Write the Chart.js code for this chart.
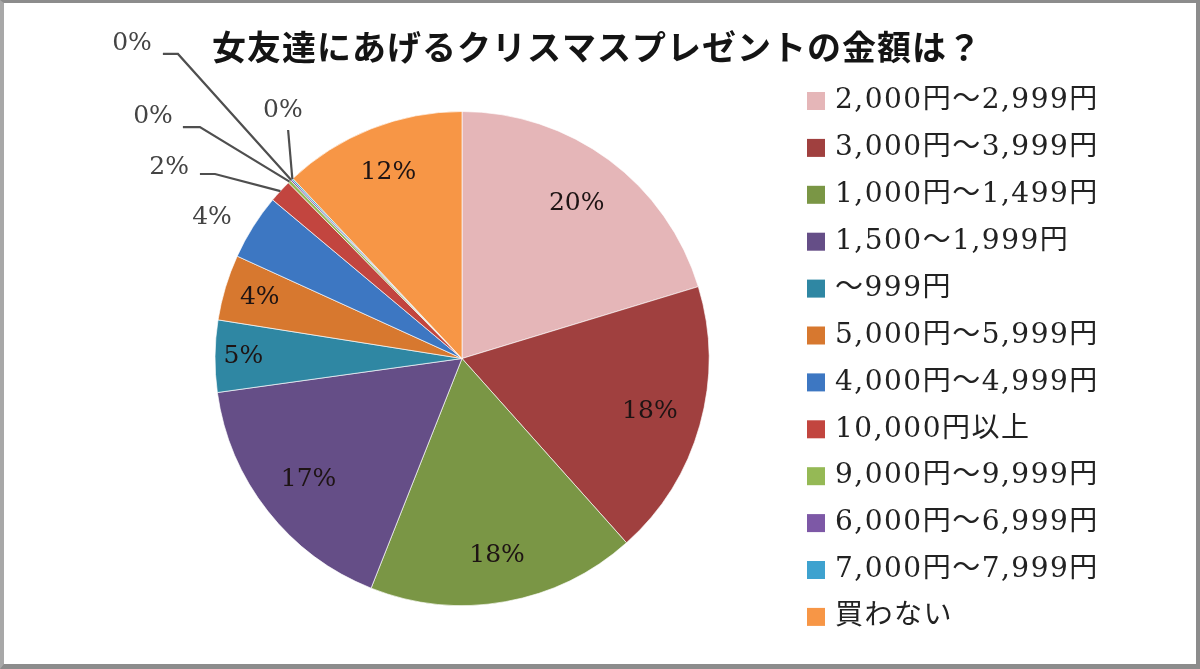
<!DOCTYPE html>
<html><head><meta charset="utf-8">
<script src="https://cdn.jsdelivr.net/npm/chart.js@4.4.1/dist/chart.umd.min.js"></script>
<style>
html,body{margin:0;padding:0;background:#fff;}
#wrap{position:relative;width:1200px;height:669px;overflow:hidden;}
#frame{position:absolute;left:0;top:0;width:1200px;height:669px;box-sizing:border-box;border-top:3px solid #8c8c8c;border-left:4px solid #a8a8a8;border-right:4px solid #8c8c8c;border-bottom:5px solid #8c8c8c;pointer-events:none;}
</style></head><body>
<div id="wrap"><canvas id="c" width="1200" height="669"></canvas><div id="frame"></div></div>
<script>
// ---- data ----
const chartTitle = '女友達にあげるクリスマスプレゼントの金額は？';
const categories = [
  '2,000円～2,999円',
  '3,000円～3,999円',
  '1,000円～1,499円',
  '1,500～1,999円',
  '～999円',
  '5,000円～5,999円',
  '4,000円～4,999円',
  '10,000円以上',
  '9,000円～9,999円',
  '6,000円～6,999円',
  '7,000円～7,999円',
  '買わない'
];
const shares = [20.3, 18.1, 17.6, 16.8, 4.7, 4.3, 4.3, 1.5, 0.2, 0.1, 0.1, 12.0];
const sliceColors = ['#E5B6B8','#A0403F','#7A9645','#654E87','#2F87A3','#D7782F',
                     '#3D77C2','#C2453F','#95B955','#7D58A6','#3EA2CF','#F79646'];

// ---- label placement (style/layout, relative to pie radius) ----
const placements = [
  {r:0.78}, {r:0.79}, {r:0.81}, {r:0.79}, {r:0.885}, {r:0.855},
  {t:[-1.012,-0.569], l:null},
  {t:[-1.186,-0.775], l:[[-1.061,-0.747],[-1.0,-0.747]]},
  {t:[-1.251,-0.978], l:[[-1.130,-0.937],[-1.061,-0.937]]},
  {t:[-1.336,-1.277], l:[[-1.211,-1.233],[-1.150,-1.233]]},
  {t:[-0.725,-1.006], l:[[-0.704,-0.925]]},
  {r:0.81}
];

const LATIN = '"DejaVu Serif", "Noto Sans CJK JP", serif';

const excelPlugin = {
  id: 'excelLook',
  afterDatasetsDraw(chart) {
    const ctx = chart.ctx;
    const meta = chart.getDatasetMeta(0);
    const data = chart.data.datasets[0].data;
    ctx.save();
    ctx.textAlign = 'center';
    ctx.textBaseline = 'middle';
    ctx.font = '25px ' + LATIN;
    meta.data.forEach((arc, i) => {
      const p = arc.getProps(['x','y','startAngle','endAngle','outerRadius'], true);
      const mid = (p.startAngle + p.endAngle) / 2;
      const R = p.outerRadius;
      const cfg = placements[i];
      const txt = Math.round(data[i]) + '%';
      let tx, ty, outside = false;
      if (cfg.r !== undefined) {
        tx = p.x + Math.cos(mid) * R * cfg.r;
        ty = p.y + Math.sin(mid) * R * cfg.r;
      } else {
        outside = true;
        tx = p.x + cfg.t[0] * R;
        ty = p.y + cfg.t[1] * R;
        if (cfg.l) {
          ctx.beginPath();
          ctx.strokeStyle = '#4f4f4f';
          ctx.lineWidth = 2.2;
          cfg.l.forEach((pt, k) => {
            const X = p.x + pt[0] * R, Y = p.y + pt[1] * R;
            if (k === 0) ctx.moveTo(X, Y); else ctx.lineTo(X, Y);
          });
          ctx.lineTo(p.x + Math.cos(mid) * R, p.y + Math.sin(mid) * R);
          ctx.stroke();
        }
      }
      ctx.fillStyle = outside ? '#444444' : '#1e1414';
      ctx.fillText(txt, tx, ty);
    });
    ctx.restore();
  },
  afterDraw(chart) {
    const ctx = chart.ctx;
    ctx.save();
    // title
    ctx.textAlign = 'center';
    ctx.textBaseline = 'middle';
    ctx.fillStyle = '#141414';
    ctx.font = 'bold 34px "Noto Sans CJK JP", sans-serif';
    ctx.letterSpacing = '1px';
    ctx.fillText(chartTitle, 597, 47);
    // legend
    const bg = chart.data.datasets[0].backgroundColor;
    ctx.textAlign = 'left';
    ctx.font = '28px ' + LATIN;
    ctx.letterSpacing = '1.5px';
    chart.data.labels.forEach((lab, i) => {
      const yc = 101 + i * 46.9;
      ctx.fillStyle = bg[i];
      ctx.fillRect(807, yc - 9, 18, 18);
      ctx.fillStyle = '#222222';
      ctx.fillText(lab, 835, yc);
    });
    ctx.restore();
  }
};

new Chart(document.getElementById('c'), {
  type: 'pie',
  data: {
    labels: categories,
    datasets: [{
      data: shares,
      backgroundColor: sliceColors,
      borderColor: 'rgba(255,255,255,0.65)',
      borderWidth: 1
    }]
  },
  options: {
    responsive: false,
    animation: false,
    layout: { padding: { top: 111, bottom: 63, left: 214, right: 490 } },
    plugins: {
      legend: { display: false },
      title: { display: false },
      tooltip: { enabled: false }
    }
  },
  plugins: [excelPlugin]
});
</script>
</body></html>
